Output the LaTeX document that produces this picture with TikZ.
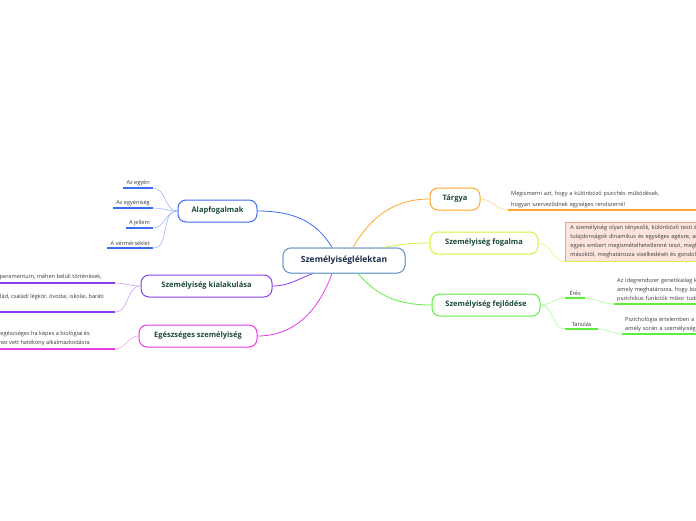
\documentclass[tikz,border=0pt]{standalone}
\usepackage{fontspec}
\setmainfont{Open Sans}
\usetikzlibrary{positioning}
\definecolor{rootBorder}{HTML}{6A9BC9}
\definecolor{rootText}{HTML}{1C2B4B}
\definecolor{topicText}{HTML}{1D4A3C}
\definecolor{leafText}{HTML}{3A3A3A}
\definecolor{basicBlue}{HTML}{3D6BF2}
\definecolor{formPurple}{HTML}{8A3FF0}
\definecolor{healthPink}{HTML}{E83BE8}
\definecolor{subjOrange}{HTML}{FFA62E}
\definecolor{conceptLime}{HTML}{D5F03A}
\definecolor{devGreen}{HTML}{5CF03C}
\definecolor{noteFill}{HTML}{FCE4DC}
\definecolor{noteBorder}{HTML}{E9A393}

\begin{document}
\begin{tikzpicture}[
    x=1pt, y=-1pt,
    root/.style={
        rectangle, draw=rootBorder, fill=white,
        minimum width=122pt, minimum height=25pt,
        rounded corners=8pt, line width=1pt,
        font=\fontsize{8.5}{10}\selectfont\bfseries, text=rootText
    },
    topic/.style={
        rectangle, fill=white,
        minimum height=22pt,
        rounded corners=8pt, line width=1pt,
        font=\fontsize{7.5}{9}\selectfont\bfseries, text=topicText
    },
    leaf/.style={inner xsep=3pt, inner ysep=2pt, font=\fontsize{5.6}{9}\selectfont, text=leafText},
    link/.style={line width=0.6pt},
    bar/.style={line width=2pt}
]
  \useasboundingbox (0,0) rectangle (696,520);
  \clip (0,0) rectangle (696,520);

  % Nodes
  \node[root] (root) at (344,260.5) {Személyiséglélektan};

  \node[topic, draw=basicBlue, minimum width=79pt] (basic) at (217.5,211) {Alapfogalmak};
  \node[topic, draw=formPurple, minimum width=131pt] (form) at (206.5,286) {Személyiség kialakulása};
  \node[topic, draw=healthPink, minimum width=118pt] (health) at (198,336) {Egészséges személyiség};
  \node[topic, draw=subjOrange, minimum width=50pt] (subj) at (455,199) {Tárgya};
  \node[topic, draw=conceptLime, minimum width=108pt] (concept) at (484,243) {Személyiség fogalma};
  \node[topic, draw=devGreen, minimum width=108pt] (dev) at (486,305) {Személyiség fejlődése};

  % Alapfogalmak leaves
  \node[leaf, anchor=south east] (egyen) at (153,188) {Az egyén};
  \node[leaf, anchor=south east] (egyeniseg) at (153,208) {Az egyéniség};
  \node[leaf, anchor=south east] (jellem) at (153,228) {A jellem};
  \node[leaf, anchor=south east] (vermerseklet) at (153,248) {A vérmérséklet};
  \foreach \n in {egyen,egyeniseg,jellem,vermerseklet} {
    \draw[bar, basicBlue] (\n.south west) -- (\n.south east);
    \draw[link, basicBlue!50] (\n.south east) to[out=0,in=180] (basic.west);
  }

  % Kialakulás leaves
  \node[leaf, anchor=south east, inner xsep=13pt, inner ysep=3pt] (orokles) at (115,283)
      {Öröklött tényezők: temperamentum, méhen belüli történések,};
  \node[leaf, anchor=south east, inner xsep=11pt, inner ysep=3pt, text depth=10pt] (kornyezet) at (115,312)
      {Környezeti tényezők: család, családi légkör, óvodai, iskolai, baráti};
  \foreach \n in {orokles,kornyezet} {
    \draw[bar, formPurple] (\n.south west) -- (\n.south east);
    \draw[link, formPurple!50] (\n.south east) to[out=0,in=180] (form.west);
  }

  % Egészség leaf
  \node[leaf, anchor=south east, inner xsep=25pt, inner ysep=3pt, align=right] (alkalmazkodas) at (115,349)
      {A személyiség akkor egészséges ha képes a biológiai és\\
       társadalmi környezethez vett hatékony alkalmazkodásra};
  \draw[bar, healthPink] (alkalmazkodas.south west) -- (alkalmazkodas.south east);
  \draw[link, healthPink!50] (alkalmazkodas.south east) to[out=0,in=180] (health.west);

  % Tárgya leaf
  \node[leaf, anchor=south west, text width=210pt, align=left, font=\fontsize{5.6}{11}\selectfont] (cel) at (508,210)
      {Megismerni azt, hogy a különböző pszichés működések,\\
       hogyan szerveződnek egységes rendszerré!};
  \draw[bar, subjOrange, line width=1.5pt] (cel.south west) -- (cel.south east);
  \draw[link, subjOrange!50] (subj.east) to[out=0,in=180] (cel.south west);

  % Fogalom note
  \node[leaf, anchor=north west, fill=noteFill, draw=noteBorder, line width=0.8pt,
        text width=190pt, align=left, inner xsep=5pt, inner ysep=3pt] (definicio) at (565,222)
      {A személyiség olyan tényezők, különböző testi és lelki\\
       tulajdonságok dinamikus és egységes egésze, amely az\\
       egyes embert megismételhetetlenné teszi, megkülönbözteti\\
       másoktól, meghatározza viselkedését és gondolkodását.};
  \draw[bar, conceptLime, line width=1.5pt] (definicio.south west) -- (definicio.south east);
  \draw[link, conceptLime!70] (concept.east) to[out=0,in=180] (definicio.south west);

  % Fejlődés leaves
  \node[leaf, anchor=south west, minimum width=20pt] (eres) at (565,298) {Érés};
  \node[leaf, anchor=south west, minimum width=33pt] (tanulas) at (565,329) {Tanulás};
  \node[leaf, anchor=south west, text width=200pt, align=left] (eresNote) at (614,304)
      {Az idegrendszer genetikailag kódolt fejlődése,\\
       amely meghatározza, hogy bizonyos\\
       pszichikus funkciók mikor tudnak megjelenni};
  \node[leaf, anchor=south west, text width=200pt, align=left] (tanulasNote) at (622,334)
      {Pszichológia értelemben a tanulás az a folyamat,\\
       amely során a személyiség megváltozik};
  \foreach \n in {eres,tanulas,eresNote,tanulasNote} {
    \draw[bar, devGreen] (\n.south west) -- (\n.south east);
  }
  \draw[link, devGreen!50] (dev.east) to[out=0,in=180] (eres.south west);
  \draw[link, devGreen!50] (dev.east) to[out=0,in=180] (tanulas.south west);
  \draw[link, devGreen!50] (eres.south east) to[out=0,in=180] (eresNote.south west);
  \draw[link, devGreen!50] (tanulas.south east) to[out=0,in=180] (tanulasNote.south west);

  % Edges from root
  \draw[link, basicBlue, line width=0.8pt] ([xshift=-12pt]root.north) to[out=120,in=0] (basic.east);
  \draw[link, formPurple, line width=0.8pt] ([xshift=-31pt]root.south) to[out=200,in=0] (form.east);
  \draw[link, healthPink, line width=0.8pt] ([xshift=-12pt]root.south) to[out=-110,in=0] (health.east);
  \draw[link, subjOrange, line width=0.8pt] ([xshift=9pt]root.north) to[out=60,in=180] (subj.west);
  \draw[link, conceptLime, line width=0.8pt] ([xshift=39pt]root.north) to[out=10,in=180] (concept.west);
  \draw[link, devGreen, line width=0.8pt] ([xshift=14pt]root.south) to[out=-50,in=180] (dev.west);

  % redraw root on top
  \node[root] at (root) {Személyiséglélektan};
\end{tikzpicture}
\end{document}
